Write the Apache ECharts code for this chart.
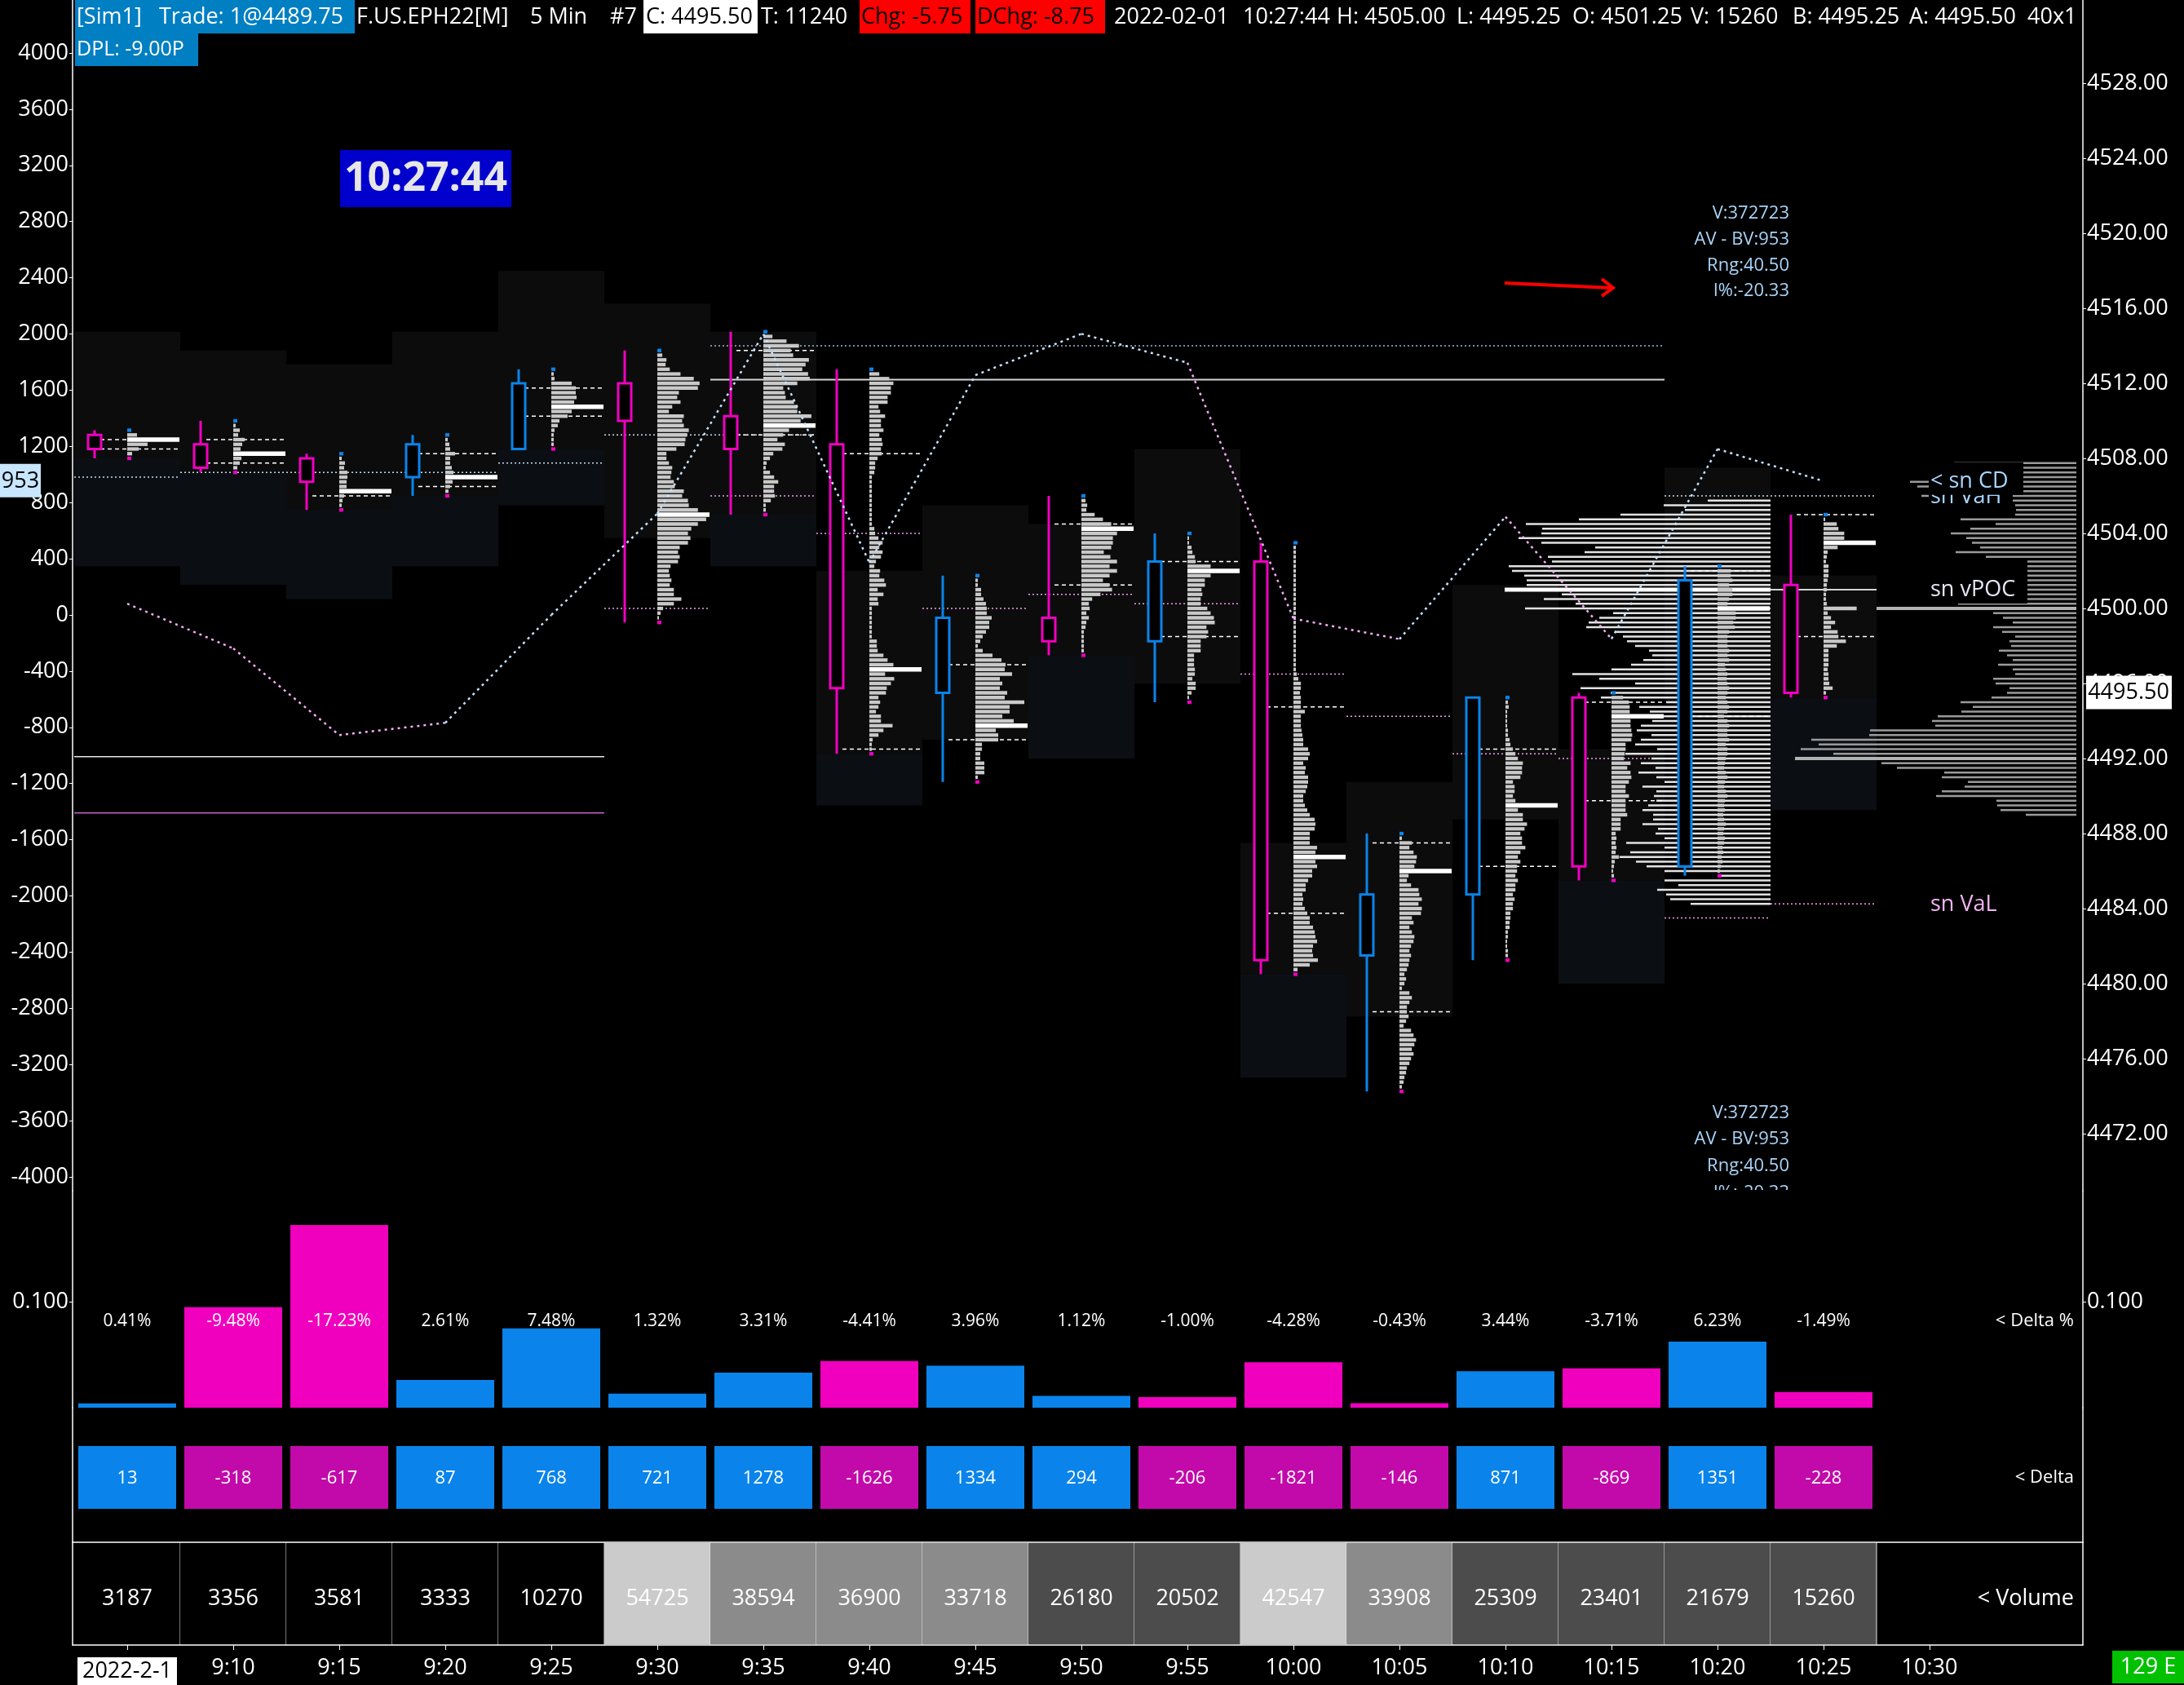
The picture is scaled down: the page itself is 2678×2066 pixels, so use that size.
<!DOCTYPE html>
<html>
<head>
<meta charset="utf-8">
<title>F.US.EPH22[M] 5 Min</title>
<script src="https://cdn.jsdelivr.net/npm/echarts@6.0.0/dist/echarts.min.js"></script>
<style>
html,body{margin:0;padding:0;background:#000;overflow:hidden;}
#chart{width:2678px;height:2066px;}
</style>
</head>
<body>
<div id="chart"></div>
<script>
// ---------------- data ----------------
const timeLabels = ['2022-2-1','9:10','9:15','9:20','9:25','9:30','9:35','9:40','9:45','9:50','9:55','10:00','10:05','10:10','10:15','10:20','10:25','10:30'];
const opens  = [4509.25,4508.75,4508.0,4507.0,4508.5,4512.0,4510.25,4508.75,4495.5,4499.5,4498.25,4502.5,4481.5,4484.75,4495.25,4486.25,4501.25];
const highs  = [4509.5,4510.0,4508.25,4509.25,4512.75,4513.75,4514.75,4512.75,4501.75,4506.0,4504.0,4503.5,4488.0,4495.25,4495.5,4502.25,4505.0];
const lows   = [4508.0,4507.25,4505.25,4506.0,4508.5,4499.25,4505.0,4492.25,4490.75,4497.5,4495.0,4480.5,4474.25,4481.25,4485.5,4485.75,4495.25];
const closes = [4508.5,4507.5,4506.75,4508.75,4512.0,4510.0,4508.5,4495.75,4499.5,4498.25,4502.5,4481.25,4484.75,4495.25,4486.25,4501.5,4495.5];
const deltas   = [13,-318,-617,87,768,721,1278,-1626,1334,294,-206,-1821,-146,871,-869,1351,-228];
const deltaPct = [0.41,-9.48,-17.23,2.61,7.48,1.32,3.31,-4.41,3.96,1.12,-1.00,-4.28,-0.43,3.44,-3.71,6.23,-1.49];
const volumes  = [3187,3356,3581,3333,10270,54725,38594,36900,33718,26180,20502,42547,33908,25309,23401,21679,15260];
const cumDelta = [80,-238,-855,-768,0,721,1999,373,1707,2001,1795,-26,-172,699,-170,1181,953];
const bgTop    = [4514.75,4513.75,4513.0,4514.75,4518.0,4516.25,4514.75,4502.0,4505.5,4504.5,4508.5,4487.5,4490.75,4501.25,4492.5,4507.5,4501.75];
const bgBottom = [4502.25,4501.25,4500.5,4502.25,4505.5,4503.75,4502.25,4489.5,4493.0,4492.0,4496.0,4475.0,4478.25,4488.75,4480.0,4495.0,4489.25];
const vaHigh = [4509.0,4509.0,null,4508.25,4511.75,null,4513.75,4508.25,4497.0,4504.5,4502.5,4494.75,4487.5,4492.5,4495.0,4502.0,4505.0];
const vaLow  = [4508.5,4507.75,4506.0,4506.5,4510.25,null,4509.25,4492.5,4493.0,4501.25,4498.5,4483.75,4478.5,4486.25,4489.75,4494.25,4498.5];
// per-bar dotted levels: [bar, price, kind]  kind b = light, p = pink
const barLevels = [[0,4507.0,'b'],[1,4507.25,'b'],[2,4507.25,'b'],[3,4507.25,'b'],[4,4507.75,'b'],[5,4509.25,'b'],[6,4509.25,'b'],
  [5,4500.0,'p'],[6,4506.0,'p'],[7,4504.0,'p'],[8,4500.0,'p'],[9,4500.75,'p'],[10,4500.25,'p'],[11,4496.5,'p'],[12,4494.25,'p'],
  [13,4492.25,'p'],[14,4492.0,'p'],[15,4483.5,'p'],[16,4484.25,'p'],[15,4506.0,'b'],[16,4506.0,'b']];
// long levels: [fromSlot, toSlot, price, kind]
const longLevels = [[-0.5,4.5,4492.1,'w'],[-0.5,4.5,4489.1,'p'],[5.5,14.5,4514.0,'d'],[5.5,14.5,4512.2,'g'],[14.5,16.5,4501.0,'g']];

// volume-at-price profiles, one list per bar, from high to low in 0.25 ticks
const profile0  = [3,12,64,25,14,6,3];
const profile1  = [3,3,8,6,14,11,9,64,10,8,5,3];
const profile2  = [3,3,7,6,10,10,9,9,64,6,4,3,3];
const profile3  = [3,3,5,6,12,6,6,8,10,64,9,6,4,3];
const profile4  = [3,3,4,25,30,30,31,28,64,25,20,10,8,4,3,3,3,3];
const profile5  = [3,6,11,10,15,28,44,51,49,26,24,28,18,14,32,30,32,38,36,34,33,23,11,11,14,18,17,16,20,21,32,30,37,38,49,63,59,49,41,37,40,37,27,25,27,25,16,14,15,17,15,20,20,29,20,7,4,2,3];
const profile6  = [3,11,28,43,33,36,55,51,47,54,56,41,24,26,27,37,41,41,58,45,63,31,24,17,26,23,12,8,4,3,8,13,18,13,13,14,9,3,3,3];
const profile7  = [3,12,24,29,26,26,22,22,11,13,19,14,14,17,12,15,16,14,15,10,7,7,6,3,3,3,3,3,3,3,3,3,3,3,6,7,11,16,12,16,14,8,6,13,12,18,20,10,17,10,11,3,3,3,3,3,3,3,9,9,10,17,22,29,63,19,30,26,21,20,11,13,11,8,14,14,28,17,11,4,3,3,3];
const profile8  = [3,3,3,7,7,10,13,14,14,20,17,17,13,9,6,3,9,21,32,37,36,45,30,33,30,39,36,60,42,42,33,47,64,25,28,28,8,8,6,6,11,11,11,3,3];
const profile9  = [4,5,7,6,16,26,36,63,43,38,38,36,27,35,43,34,43,34,26,34,37,23,13,9,10,6,9,6,5,3,3,3,3,3,3];
const profile10 = [3,2,2,5,6,9,10,28,63,28,21,21,17,18,16,16,24,28,32,33,23,25,23,16,16,16,8,8,8,9,9,6,10,10,5,2,3];
const profile11 = [4,3,3,3,3,3,3,3,3,3,3,3,3,3,3,3,3,3,3,3,3,3,3,3,3,3,3,3,4,6,9,9,8,9,9,9,14,9,9,9,10,11,12,12,18,20,18,12,15,14,18,18,17,15,12,12,14,17,20,26,27,26,20,20,20,29,27,64,27,29,23,23,18,15,15,11,12,11,14,17,20,20,24,26,27,29,24,23,24,30,20,5,3];
const profile12 = [3,3,15,12,17,21,20,18,63,11,9,14,23,24,27,23,27,26,15,17,12,15,18,17,14,12,14,12,11,9,6,8,6,3,12,15,12,9,9,11,8,5,14,17,20,18,15,17,14,12,9,8,6,5,3,3];
const profile13 = [3,3,4,2,2,2,2,3,3,5,6,9,12,15,21,20,20,18,9,11,11,9,12,63,15,21,21,26,23,18,20,20,24,18,15,18,14,14,12,15,12,12,9,11,9,9,6,6,5,5,3,3,2,2,3,3,3];
const profile14 = [3,14,21,22,22,63,23,23,24,25,24,17,17,16,15,23,19,23,24,21,17,17,21,17,17,17,19,11,11,11,5,6,5,6,5,9,4,3,2,3,3];
const profile15 = [4,16,16,18,14,18,18,14,12,63,22,22,19,21,14,12,12,12,14,12,14,9,10,12,11,12,14,12,10,12,14,12,8,12,14,12,12,14,10,12,12,10,9,8,10,12,9,8,10,12,9,8,9,7,8,10,8,7,9,8,6,7,5,6,4,3,3];
const profile16 = [3,2,16,18,25,25,63,17,5,4,3,6,6,6,5,4,4,3,3,4,40,5,9,14,9,17,18,27,16,6,6,6,6,5,6,6,7,11,3,3];
const profiles = [profile0,profile1,profile2,profile3,profile4,profile5,profile6,profile7,profile8,profile9,profile10,profile11,profile12,profile13,profile14,profile15,profile16];

// composite profile ending at the 10:20 slot (from top price, 0.25 ticks)
const compositeTop = 4505.75;
const compositeProfile = [77,131,105,184,235,300,280,281,309,281,215,228,273,268,321,317,302,299,299,326,256,278,239,301,193,210,223,226,191,181,176,166,149,145,156,171,195,243,210,166,233,196,208,128,161,148,161,145,159,164,146,159,166,139,178,146,159,141,162,140,130,157,140,143,140,150,157,144,144,157,138,141,130,177,130,172,185,165,152,130,61,130,113,139,128,123,98];
// session profile against the price scale
const sessionTop = 4507.75;
const sessionProfile = [150,130,120,110,204,195,140,190,79,75,74,75,142,99,130,154,135,128,118,148,111,103,130,115,150,120,140,110,135,125,145,245,102,90,78,102,91,75,82,80,95,85,78,96,78,75,102,99,82,85,104,142,127,141,170,177,173,253,254,325,316,338,298,345,239,220,162,165,133,137,165,172,98,97,93,62];
const snCD = 953, snVaH = 4506.0, snVPOC = 4500.0, snVaL = 4484.25;
const lastPrice = 4495.50;

const priceTicks = [4472,4476,4480,4484,4488,4492,4496,4500,4504,4508,4512,4516,4520,4524,4528];
const cdTicks = [-4000,-3600,-3200,-2800,-2400,-2000,-1600,-1200,-800,-400,0,400,800,1200,1600,2000,2400,2800,3200,3600,4000];
const pctTicks = [0.1];

// ---------------- layout / style ----------------
const FONT = "'Open Sans','Noto Sans',sans-serif";
const BLUE = '#0a84ea', MAG = '#f000c0', PCT_MAG = '#f000be', DELTA_MAG = '#c20aaa';
const XMIN = -0.515385, XMAX = 18.446154;
const PMIN = 4468.957, PMAX = 4532.435;
const CDMIN = -4098.7, CDMAX = 4377.4;
const PCTMAX = 0.204615;
const TICK = 0.25;

const chart = echarts.init(document.getElementById('chart'), null, {renderer:'canvas', width:2678, height:2066});

function renderBg(params, api) {
  const i = params.dataIndex;
  const a = api.coord([i - 0.5, bgTop[i]]);
  const b = api.coord([i + 0.5, bgBottom[i]]);
  let s = api.coord([i, lows[i]])[1];
  s = Math.min(Math.max(s, a[1]), b[1]);
  return {type:'group', children:[
    {type:'rect', shape:{x:a[0], y:a[1], width:b[0]-a[0], height:s-a[1]}, style:{fill:'#0c0c0c'}},
    {type:'rect', shape:{x:a[0], y:s, width:b[0]-a[0], height:b[1]-s}, style:{fill:'#0b0f14'}}
  ]};
}
function renderLong(params, api) {
  const d = longLevels[params.dataIndex];
  const a = api.coord([d[0], d[2]]), b = api.coord([d[1], d[2]]);
  const st = {w:{stroke:'#e6e6e6', lineWidth:1.5}, p:{stroke:'#c860c8', lineWidth:1.5},
              d:{stroke:'#9fb6cc', lineWidth:1.5, lineDash:[2,3]}, g:{stroke:'#d4d4d4', lineWidth:2}}[d[3]];
  return {type:'line', shape:{x1:a[0], y1:a[1], x2:b[0], y2:b[1]}, style:st};
}
function renderBarLevel(params, api) {
  const d = barLevels[params.dataIndex];
  const a = api.coord([d[0] - 0.5, d[1]]), b = api.coord([d[0] + 0.5, d[1]]);
  return {type:'line', shape:{x1:a[0], y1:a[1], x2:b[0], y2:b[1]},
    style:{stroke: d[2] === 'b' ? '#c4dcf0' : '#f0a0f0', lineWidth:1.5, lineDash:[2,3]}};
}
function renderComposite(params, api) {
  const ax = api.coord([15.5, compositeTop])[0];
  const mx = Math.max(...compositeProfile);
  const ch = compositeProfile.map((v, k) => {
    const y = api.coord([15.5, compositeTop - TICK * k])[1];
    const poc = v === mx;
    return {type:'rect', shape:{x:ax - v, y:y - (poc ? 2.6 : 1.3), width:v, height:poc ? 5.2 : 2.6}, style:{fill: poc ? '#ffffff' : '#e2e2e2'}};
  });
  return {type:'group', children:ch};
}
function renderSession(params, api) {
  const cs = params.coordSys;
  const ax = cs.x + cs.width - 8;
  const mx = Math.max(...sessionProfile);
  const vp = Math.round((sessionTop - snVPOC) / TICK);
  const ch = sessionProfile.map((v, k) => {
    const y = api.coord([0, sessionTop - TICK * k])[1];
    const hi = k === vp || v === mx;
    return {type:'rect', shape:{x:ax - v, y:y - (hi ? 2 : 1.3), width:v, height:hi ? 4 : 2.6}, style:{fill: hi ? '#b2b2b2' : '#9a9a9a'}};
  });
  return {type:'group', children:ch};
}
function renderBar(params, api) {
  const i = params.dataIndex;
  const o = opens[i], h = highs[i], l = lows[i], c = closes[i];
  const cx = api.coord([i, h])[0];
  const Y = p => api.coord([i, p])[1];
  const ch = [];
  [vaHigh[i], vaLow[i]].forEach(p => {
    if (p != null) ch.push({type:'line', shape:{x1:cx - 33, y1:Y(p), x2:cx + 64, y2:Y(p)}, style:{stroke:'#ffffff', lineWidth:1.5, lineDash:[5,4]}});
  });
  const prof = profiles[i];
  const mx = Math.max(...prof), n = prof.length, poc = prof.indexOf(mx);
  for (let k = 0; k < n; k++) {
    const y = Y(h - TICK * k);
    let w = prof[k] / mx * 64, hh = 4.3, fill = '#c9c9c9';
    if (k === poc) { fill = '#ffffff'; hh = 5.6; }
    else if (k === 0) { fill = BLUE; w = Math.max(w, 5); }
    else if (k === n - 1) { fill = MAG; w = Math.max(w, 5); }
    ch.push({type:'rect', shape:{x:cx, y:y - hh / 2, width:w, height:hh}, style:{fill}});
  }
  const x = cx - 40, col = c >= o ? BLUE : MAG;
  const yt = Y(Math.max(o, c)), yb = Y(Math.min(o, c));
  ch.push({type:'line', shape:{x1:x, y1:Y(h), x2:x, y2:yt}, style:{stroke:col, lineWidth:3}});
  ch.push({type:'line', shape:{x1:x, y1:yb, x2:x, y2:Y(l)}, style:{stroke:col, lineWidth:3}});
  ch.push({type:'rect', shape:{x:x - 8, y:yt, width:16, height:yb - yt}, style:{fill:'#000', stroke:col, lineWidth:3}});
  return {type:'group', children:ch};
}
function renderCD(params, api) {
  const i = params.dataIndex;
  if (i === 0) return {type:'group', children:[]};
  const a = api.coord([i - 1, cumDelta[i - 1]]), b = api.coord([i, cumDelta[i]]);
  return {type:'line', shape:{x1:a[0], y1:a[1], x2:b[0], y2:b[1]},
    style:{stroke: cumDelta[i] >= 0 ? '#c4e2ff' : '#f6aaf6', lineWidth:2.5, lineDash:[3,5]}};
}
function renderPct(params, api) {
  const i = params.dataIndex, v = deltaPct[i], cs = params.coordSys;
  const base = api.coord([i, 0]), top = api.coord([i, Math.abs(v) / 100]);
  return {type:'group', children:[
    {type:'rect', shape:{x:base[0] - 60, y:top[1], width:120, height:base[1] - top[1]}, style:{fill: v >= 0 ? BLUE : PCT_MAG}},
    {type:'text', style:{x:base[0], y:cs.y + 160, text:v.toFixed(2) + '%', fill:'#fff', fontSize:21, fontFamily:FONT, align:'center', verticalAlign:'middle'}}
  ]};
}
function renderDelta(params, api) {
  const i = params.dataIndex, v = deltas[i], cs = params.coordSys;
  const cx = api.coord([i, 0])[0];
  return {type:'group', children:[
    {type:'rect', shape:{x:cx - 60, y:cs.y + 47, width:120, height:77}, style:{fill: v >= 0 ? BLUE : DELTA_MAG}},
    {type:'text', style:{x:cx, y:cs.y + 87, text:String(v), fill:'#fff', fontSize:22, fontFamily:FONT, align:'center', verticalAlign:'middle'}}
  ]};
}
function renderVol(params, api) {
  const i = params.dataIndex, v = volumes[i], cs = params.coordSys;
  const cx = api.coord([i, 0])[0];
  const fill = v >= 40000 ? '#cbcbcb' : v >= 30000 ? '#8b8b8b' : v >= 15000 ? '#4c4c4c' : '#000000';
  return {type:'group', children:[
    {type:'rect', shape:{x:cx - 65, y:cs.y + 1, width:130, height:cs.height - 2}, style:{fill}},
    {type:'line', shape:{x1:cx + 65, y1:cs.y, x2:cx + 65, y2:cs.y + cs.height}, style:{stroke:'#e8e8e8', lineWidth:1}},
    {type:'text', style:{x:cx, y:cs.y + 69, text:String(v), fill:'#fff', fontSize:27, fontFamily:FONT, align:'center', verticalAlign:'middle'}}
  ]};
}

const lineWhite = {show:true, onZero:false, lineStyle:{color:'#ffffff', width:1.5}};
const xBase = {type:'value', min:XMIN, max:XMAX, show:false, splitLine:{show:false}};
const slotIdx = timeLabels.map((_, i) => i);

function yPlain(grid, pos) {
  return {type:'value', gridIndex:grid, position:pos, min:0, max:1, axisLine:lineWhite,
    axisTick:{show:false}, axisLabel:{show:false}, splitLine:{show:false}};
}

const option = {
  backgroundColor:'#000',
  animation:false,
  grid:[
    {left:89, right:124, top:0, height:1460},
    {left:89, right:124, top:1460, height:266},
    {left:89, right:124, top:1726, height:165},
    {left:89, right:124, top:1891, height:129}
  ],
  xAxis:[
    Object.assign({gridIndex:0}, xBase),
    Object.assign({gridIndex:1}, xBase),
    Object.assign({}, xBase, {gridIndex:2, show:true, axisLine:{show:true, onZero:false, lineStyle:{color:'#ffffff', width:1.5}}, axisTick:{show:false}, axisLabel:{show:false}}),
    Object.assign({}, xBase, {gridIndex:3, show:true, position:'bottom',
      axisLine:{show:true, onZero:false, lineStyle:{color:'#ffffff', width:1.5}},
      axisTick:{show:true, customValues:slotIdx, length:6, lineStyle:{color:'#ffffff'}},
      axisLabel:{show:true, customValues:slotIdx, margin:15, color:'#ffffff', fontSize:27, fontFamily:FONT,
        formatter:(v) => { const i = Math.round(v); return i === 0 ? '{d|' + timeLabels[0] + '}' : timeLabels[i]; },
        rich:{d:{backgroundColor:'#ffffff', color:'#000000', fontSize:27, fontFamily:FONT, padding:[4,6,3,6]}}}})
  ],
  yAxis:[
    {type:'value', gridIndex:0, position:'right', min:PMIN, max:PMAX, axisLine:lineWhite,
      axisTick:{show:true, customValues:priceTicks, length:4, lineStyle:{color:'#fff'}},
      axisLabel:{customValues:priceTicks, formatter:v => v.toFixed(2), color:'#fff', fontSize:27, fontFamily:FONT, margin:5},
      splitLine:{show:false}},
    {type:'value', gridIndex:0, position:'left', min:CDMIN, max:CDMAX, axisLine:lineWhite,
      axisTick:{show:true, customValues:cdTicks, length:4, lineStyle:{color:'#fff'}},
      axisLabel:{customValues:cdTicks, formatter:v => String(Math.round(v)), color:'#fff', fontSize:27, fontFamily:FONT, margin:5},
      splitLine:{show:false}},
    {type:'value', gridIndex:1, position:'left', min:0, max:PCTMAX, axisLine:lineWhite,
      axisTick:{show:true, customValues:pctTicks, length:4, lineStyle:{color:'#fff'}},
      axisLabel:{customValues:pctTicks, formatter:v => v.toFixed(3), color:'#fff', fontSize:27, fontFamily:FONT, margin:5},
      splitLine:{show:false}},
    {type:'value', gridIndex:1, position:'right', min:0, max:PCTMAX, axisLine:lineWhite,
      axisTick:{show:true, customValues:pctTicks, length:4, lineStyle:{color:'#fff'}},
      axisLabel:{customValues:pctTicks, formatter:v => v.toFixed(3), color:'#fff', fontSize:27, fontFamily:FONT, margin:5},
      splitLine:{show:false}},
    yPlain(2,'left'), yPlain(2,'right'), yPlain(3,'left'), yPlain(3,'right')
  ],
  series:[
    {type:'custom', name:'bg', xAxisIndex:0, yAxisIndex:0, silent:true, renderItem:renderBg, data:bgTop.map((t, i) => [i, t])},
    {type:'custom', name:'levels', xAxisIndex:0, yAxisIndex:0, silent:true, renderItem:renderLong, data:longLevels.map(d => [d[0], d[2]])},
    {type:'custom', name:'barLevels', xAxisIndex:0, yAxisIndex:0, silent:true, renderItem:renderBarLevel, data:barLevels.map(d => [d[0], d[1]])},
    {type:'custom', name:'composite', xAxisIndex:0, yAxisIndex:0, silent:true, renderItem:renderComposite, data:[[15.5, compositeTop]]},
    {type:'custom', name:'session', xAxisIndex:0, yAxisIndex:0, silent:true, renderItem:renderSession, data:[[18, sessionTop]]},
    {type:'custom', name:'bars', xAxisIndex:0, yAxisIndex:0, silent:true, renderItem:renderBar, data:opens.map((o, i) => [i, o, highs[i], lows[i], closes[i]])},
    {type:'custom', name:'cumDelta', xAxisIndex:0, yAxisIndex:1, silent:true, renderItem:renderCD, data:cumDelta.map((v, i) => [i, v])},
    {type:'custom', name:'deltaPct', xAxisIndex:1, yAxisIndex:2, silent:true, renderItem:renderPct, data:deltaPct.map((v, i) => [i, Math.abs(v) / 100])},
    {type:'custom', name:'delta', xAxisIndex:2, yAxisIndex:4, silent:true, renderItem:renderDelta, data:deltas.map((v, i) => [i, 0.5])},
    {type:'custom', name:'volume', xAxisIndex:3, yAxisIndex:6, silent:true, renderItem:renderVol, data:volumes.map((v, i) => [i, 0.5])}
  ]
};
chart.setOption(option);

// ---------------- annotations ----------------
function txt(x, y, text, o) {
  o = o || {};
  return {type:'text', x, y, z:o.z || 62, silent:true, style:{text, fill:o.fill || '#ffffff', fontSize:o.size || 27,
    fontFamily:FONT, fontWeight:o.weight || 'normal', align:o.align || 'left', verticalAlign:'middle'}};
}
function box(x, y, w, h, fill, z) {
  return {type:'rect', z:z || 60, silent:true, shape:{x, y, width:w, height:h}, style:{fill}};
}
const pIdx = 5, cdIdx = 6;
const yPrice = p => chart.convertToPixel({seriesIndex:pIdx}, [0, p])[1];
const yCD = v => chart.convertToPixel({seriesIndex:cdIdx}, [0, v])[1];

const INFO = '#a9d3f7';
const g = [
  // header
  box(92, 0, 343, 41, '#007fc3'), txt(94, 21, '[Sim1]'), txt(195, 21, 'Trade: 1@4489.75'),
  txt(437, 21, 'F.US.EPH22[M]'), txt(650, 21, '5 Min'), txt(748, 21, '#7'),
  box(789, 0, 140, 41, '#ffffff'), txt(792, 21, 'C: 4495.50', {fill:'#000'}),
  txt(933, 21, 'T: 11240'),
  box(1054, 0, 136, 41, '#ff0000'), txt(1056, 21, 'Chg: -5.75', {fill:'#000'}),
  box(1196, 0, 159, 41, '#ff0000'), txt(1198, 21, 'DChg: -8.75', {fill:'#000'}),
  txt(1366, 21, '2022-02-01'), txt(1524, 21, '10:27:44'), txt(1639, 21, 'H: 4505.00'), txt(1786, 21, 'L: 4495.25'),
  txt(1928, 21, 'O: 4501.25'), txt(2073, 21, 'V: 15260'), txt(2198, 21, 'B: 4495.25'), txt(2341, 21, 'A: 4495.50'), txt(2486, 21, '40x1'),
  box(92, 41, 151, 40, '#007fc3'), txt(94, 61, 'DPL: -9.00P', {size:25}),
  // clock
  box(417, 184, 210, 70, '#0000cc'), txt(522, 220, '10:27:44', {size:50, weight:'bold', fill:'#e6e6e6', align:'center'}),
  // arrow
  {type:'polyline', z:60, silent:true, shape:{points:[[1845,347],[1976,353]]}, style:{stroke:'#ff0000', lineWidth:4, fill:null}},
  {type:'polyline', z:60, silent:true, shape:{points:[[1964,342],[1978,353],[1964,363]]}, style:{stroke:'#ff0000', lineWidth:4, fill:null}},
  // info blocks
  txt(2194, 262, 'V:372723', {size:22, fill:INFO, align:'right'}),
  txt(2194, 294, 'AV - BV:953', {size:22, fill:INFO, align:'right'}),
  txt(2194, 326, 'Rng:40.50', {size:22, fill:INFO, align:'right'}),
  txt(2194, 357, 'I%:-20.33', {size:22, fill:INFO, align:'right'}),
  txt(2194, 1365, 'V:372723', {size:22, fill:INFO, align:'right'}),
  txt(2194, 1397, 'AV - BV:953', {size:22, fill:INFO, align:'right'}),
  txt(2194, 1430, 'Rng:40.50', {size:22, fill:INFO, align:'right'}),
  txt(2194, 1463, 'I%:-20.33', {size:22, fill:INFO, align:'right'}),
  box(2060, 1459, 150, 32, '#000000', 63),
  // session labels
  box(2365, yPrice(snVaH) - 4, 103, 18, '#000000', 64),
  txt(2367, yPrice(snVaH) + 1, 'sn VaH', {fill:'#a8d6ff', z:65}),
  box(2365, yCD(snCD) - 23, 116, 40, '#000000', 66),
  txt(2367, yCD(snCD), '< sn CD', {fill:'#a8d6ff', z:67}),
  box(2365, yPrice(snVPOC) - 60, 121, 54, '#000000', 64),
  txt(2367, yPrice(snVPOC) - 23, 'sn vPOC', {fill:'#e6e6f4', z:65}),
  txt(2367, yPrice(snVaL) + 1, 'sn VaL', {fill:'#f4b4f4', z:65}),
  // last values
  box(0, yCD(snCD) - 21, 50, 41, '#c8e6ff', 66), txt(25, yCD(snCD), '953', {fill:'#000', align:'center', z:67}),
  box(2558, yPrice(lastPrice) - 21, 105, 41, '#ffffff', 66), txt(2610, yPrice(lastPrice), '4495.50', {fill:'#000', align:'center', z:67}),
  // panel captions
  txt(2543, 1620, '< Delta %', {size:22, align:'right'}),
  txt(2543, 1812, '< Delta', {size:22, align:'right'}),
  txt(2543, 1960, '< Volume', {size:27, align:'right'}),
  box(2590, 2024, 88, 40, '#00c000'), txt(2634, 2044, '129 E', {align:'center'})
];
chart.setOption({graphic:g});
</script>
</body>
</html>
